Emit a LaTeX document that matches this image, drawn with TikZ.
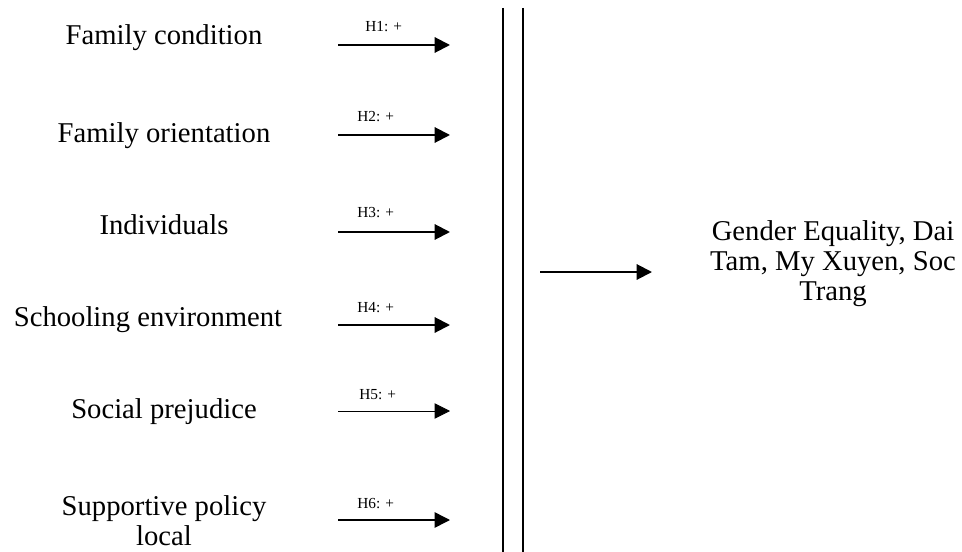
\documentclass[tikz,border=0pt]{standalone}
\usepackage{fontspec}
\setmainfont{Liberation Serif}
\usetikzlibrary{arrows.meta}
\begin{document}
\begin{tikzpicture}[x=0.75pt,y=-0.75pt,
  factor/.style={anchor=base,inner sep=0pt,align=center,font=\fontsize{21.5}{22.5}\selectfont},
  hlabel/.style={anchor=base west,inner sep=0pt,font=\fontsize{11.5}{13}\selectfont},
  hyparrow/.style={line width=1.5pt,-{Triangle[length=11.5pt,width=11.5pt]}},
  sep/.style={line width=0.9pt}]
\useasboundingbox (0,0) rectangle (962,552);
% factors
\node[factor] (f1) at (164,45) {Family condition};
\node[factor] (f2) at (164,143) {Family orientation};
\node[factor] (f3) at (164,234) {Individuals};
\node[factor] (f4) at (148,326) {Schooling environment};
\node[factor] (f5) at (164,418) {Social prejudice};
\node[factor] (f6) at (164,545) {Supportive policy\\local};
% hypothesis arrows
\coordinate (a1s) at (338,45);  \coordinate (a1e) at (450,45);
\coordinate (a2s) at (338,135); \coordinate (a2e) at (450,135);
\coordinate (a3s) at (338,232); \coordinate (a3e) at (450,232);
\coordinate (a4s) at (338,325); \coordinate (a4e) at (450,325);
\coordinate (a5s) at (338,411); \coordinate (a5e) at (450,411);
\coordinate (a6s) at (338,520); \coordinate (a6e) at (450,520);
\draw[hyparrow] (a1s) -- (a1e);
\draw[hyparrow] (a2s) -- (a2e);
\draw[hyparrow] (a3s) -- (a3e);
\draw[hyparrow] (a4s) -- (a4e);
\draw[hyparrow,line width=0.6pt] (a5s) -- (a5e);
\draw[hyparrow,line width=1.1pt] (a6s) -- (a6e);
\node[hlabel] (h1) at (365,32) {H1: +};
\node[hlabel] (h2) at (357,122) {H2: +};
\node[hlabel] (h3) at (357,218) {H3: +};
\node[hlabel] (h4) at (357,312) {H4: +};
\node[hlabel] (h5) at (359,399) {H5: +};
\node[hlabel] (h6) at (357,508) {H6: +};
% separator lines
\coordinate (v1t) at (503,8); \coordinate (v1b) at (503,552);
\coordinate (v2t) at (523,8); \coordinate (v2b) at (523,552);
\draw[sep] (v1t) -- (v1b);
\draw[sep] (v2t) -- (v2b);
% outcome
\coordinate (bs) at (540,272); \coordinate (be) at (652,272);
\draw[hyparrow] (bs) -- (be);
\node[factor] (out) at (833,300) {Gender Equality, Dai\\Tam, My Xuyen, Soc\\Trang};
\end{tikzpicture}
\end{document}
